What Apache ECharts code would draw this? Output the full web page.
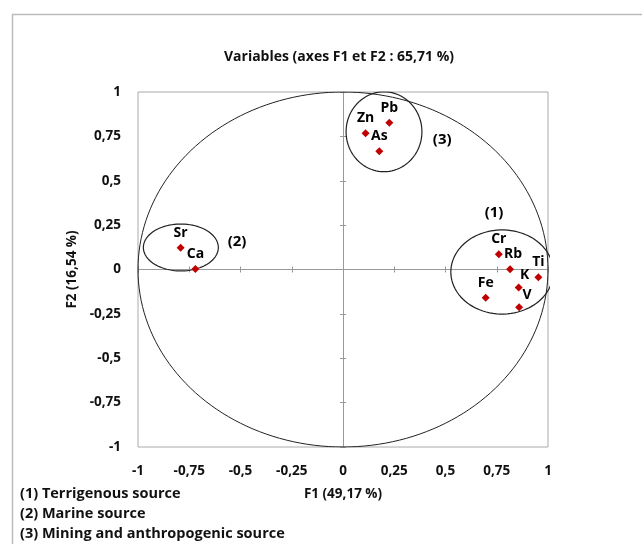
<!DOCTYPE html>
<html>
<head>
<meta charset="utf-8">
<script src="https://cdn.jsdelivr.net/npm/echarts@6/dist/echarts.min.js"></script>
<style>
  html, body { margin: 0; padding: 0; background: #fff; }
  #chart { width: 642px; height: 544px; }
</style>
</head>
<body>
<div id="chart"></div>
<script>
// ---- data ----
const varNames = ['Pb', 'Zn', 'As', 'Sr', 'Ca', 'Cr', 'Rb', 'Ti', 'K', 'V', 'Fe'];
const f1Values = [0.226, 0.110, 0.177, -0.792, -0.720, 0.760, 0.815, 0.953, 0.857, 0.859, 0.696];
const f2Values = [0.827, 0.767, 0.666, 0.123, 0.003, 0.086, 0.002, -0.044, -0.102, -0.213, -0.159];

const groupTags = ['(1)', '(2)', '(3)'];
const groupTagF1 = [0.737, -0.517, 0.484];
const groupTagF2 = [0.317, 0.155, 0.730];
const groupCenterF1 = [0.776, -0.791, 0.200];
const groupCenterF2 = [-0.014, 0.124, 0.776];
const groupRadiusF1 = [0.250, 0.183, 0.185];
const groupRadiusF2 = [0.237, 0.132, 0.225];

const groupLegend = ['(1) Terrigenous source', '(2) Marine source', '(3) Mining and anthropogenic source'];
const axisTicks = [-1, -0.75, -0.5, -0.25, 0, 0.25, 0.5, 0.75, 1];

const titleText = 'Variables (axes F1 et F2 : 65,71 %)';
const xName = 'F1 (49,17 %)';
const yName = 'F2 (16,54 %)';

// ---- helpers ----
const FONT = '"Open Sans", Lato, sans-serif';
const fmt = v => String(v).replace('.', ',');
function ellipse(cx, cy, rx, ry) {
  const pts = [];
  for (let i = 0; i <= 180; i++) {
    const a = (i / 180) * Math.PI * 2;
    pts.push([cx + rx * Math.cos(a), cy + ry * Math.sin(a)]);
  }
  return pts;
}
const labelNudge = { Rb: [3, 0], K: [6, 2], V: [8, 3] };

const chart = echarts.init(document.getElementById('chart'), null, { renderer: 'canvas' });

const baseAxis = {
  type: 'value', min: -1, max: 1, interval: 0.25,
  splitLine: { show: false }
};

const pointData = varNames.map((n, i) => {
  const d = { name: n, value: [f1Values[i], f2Values[i]] };
  if (labelNudge[n]) d.label = { offset: labelNudge[n] };
  return d;
});

const series = [
  {
    type: 'line', name: 'unit', data: ellipse(0, 0, 1, 1),
    showSymbol: false, silent: true, smooth: false,
    lineStyle: { color: '#222', width: 1 }, z: 2, animation: false
  }
];
groupTags.forEach((g, i) => {
  series.push({
    type: 'line', data: ellipse(groupCenterF1[i], groupCenterF2[i], groupRadiusF1[i], groupRadiusF2[i]),
    showSymbol: false, silent: true, smooth: false,
    lineStyle: { color: '#222', width: 1.2 }, z: 2, animation: false
  });
});
series.push({
  type: 'scatter', data: pointData, symbol: 'diamond', symbolSize: 8,
  itemStyle: { color: '#c00000', opacity: 1 }, z: 5, animation: false,
  label: {
    show: true, position: 'top', distance: 4, formatter: '{b}', opacity: 1,
    color: '#000', fontFamily: FONT, fontWeight: 'bold', fontSize: 14, textBorderWidth: 0
  }
});
series.push({
  type: 'scatter', symbolSize: 0, animation: false, silent: true,
  data: groupTags.map((g, i) => ({ name: g, value: [groupTagF1[i], groupTagF2[i]] })),
  label: {
    show: true, position: 'inside', formatter: '{b}', opacity: 1,
    color: '#000', fontFamily: FONT, fontWeight: 'bold', fontSize: 15, textBorderWidth: 0
  }
});

chart.setOption({
  backgroundColor: '#fff',
  animation: false,
  title: {
    text: titleText, left: 334, top: 45, textAlign: 'center',
    textStyle: { fontFamily: FONT, fontWeight: 'bold', fontSize: 14, color: '#111' }
  },
  grid: {
    left: 138, top: 92, width: 410, height: 355,
    show: true, borderColor: '#aaa', borderWidth: 1, backgroundColor: 'transparent'
  },
  xAxis: [
    Object.assign({}, baseAxis, {
      position: 'bottom',
      axisLine: { show: false, onZero: false }, axisTick: { show: false },
      axisLabel: { margin: 17, formatter: fmt, fontFamily: FONT, fontWeight: 'bold', fontSize: 13.5, color: '#111' },
      name: xName, nameLocation: 'middle', nameGap: 40,
      nameTextStyle: { fontFamily: FONT, fontWeight: 'bold', fontSize: 13.5, color: '#111' }
    }),
    Object.assign({}, baseAxis, {
      position: 'top',
      axisLine: { show: true, onZero: true, lineStyle: { color: '#999', width: 1 } },
      axisTick: { show: true, length: 3, inside: false, lineStyle: { color: '#999' } },
      axisLabel: { show: false }
    }),
    Object.assign({}, baseAxis, {
      position: 'top',
      axisLine: { show: false, onZero: true },
      axisTick: { show: true, length: 3, inside: true, lineStyle: { color: '#999' } },
      axisLabel: { show: false }
    })
  ],
  yAxis: [
    Object.assign({}, baseAxis, {
      position: 'left',
      axisLine: { show: false, onZero: false }, axisTick: { show: false },
      axisLabel: { margin: 17, formatter: fmt, fontFamily: FONT, fontWeight: 'bold', fontSize: 13.5, color: '#111' },
      name: yName, nameLocation: 'middle', nameGap: 48, nameRotate: 90,
      nameTextStyle: { fontFamily: FONT, fontWeight: 'bold', fontSize: 13.5, color: '#111' }
    }),
    Object.assign({}, baseAxis, {
      position: 'right',
      axisLine: { show: true, onZero: true, lineStyle: { color: '#999', width: 1 } },
      axisTick: { show: true, length: 3, inside: false, lineStyle: { color: '#999' } },
      axisLabel: { show: false }
    }),
    Object.assign({}, baseAxis, {
      position: 'right',
      axisLine: { show: false, onZero: true },
      axisTick: { show: true, length: 3, inside: true, lineStyle: { color: '#999' } },
      axisLabel: { show: false }
    })
  ],
  graphic: [
    {
      type: 'rect', left: 10, top: 12, silent: true, z: -10,
      shape: { width: 700, height: 600 },
      style: { fill: 'none', stroke: '#bbb', lineWidth: 1.5 }
    }
  ].concat(groupLegend.map((t, i) => ({
    type: 'text', left: 20, top: 486 + i * 20, silent: true,
    style: { text: t, fill: '#111', font: 'bold 14.5px ' + FONT }
  }))),
  series: series
});
</script>
</body>
</html>
